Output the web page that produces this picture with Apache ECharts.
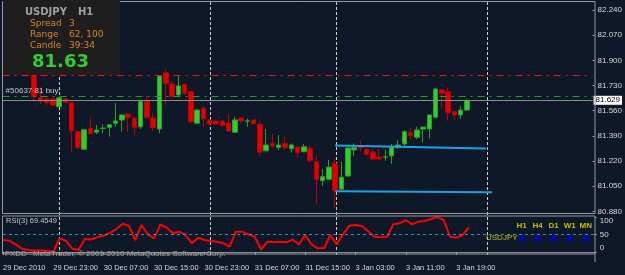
<!DOCTYPE html>
<html>
<head>
<meta charset="utf-8">
<script src="https://cdn.jsdelivr.net/npm/echarts@6/dist/echarts.min.js"></script>
<style>
  html, body { margin: 0; padding: 0; background: #0e1828; }
  #chart { width: 625px; height: 275px; }
</style>
</head>
<body>
<div id="chart"></div>
<script>
// trading sessions shown on the time axis: [day, first hour, last hour]
const sessions = [['29 Dec', 15, 23], ['30 Dec', 0, 23], ['31 Dec', 0, 19], ['3 Jan', 0, 23], ['4 Jan', 0, 17]]
const firstLabel = '29 Dec 2010'
const hiddenBars = 5 // bars behind the info box

// [open, close, low, high] from 29 Dec 20:00
const candles = [
  [81.835, 81.654, 81.620, 81.850], [81.648, 81.623, 81.605, 81.718], [81.639, 81.614, 81.598, 81.648],
  [81.639, 81.596, 81.593, 81.642], [81.587, 81.646, 81.583, 81.649], [81.639, 81.616, 81.612, 81.642],
  [81.614, 81.424, 81.276, 81.617], [81.418, 81.312, 81.299, 81.422], [81.299, 81.431, 81.294, 81.436],
  [81.441, 81.404, 81.402, 81.519], [81.414, 81.429, 81.402, 81.463], [81.440, 81.442, 81.407, 81.468],
  [81.447, 81.465, 81.384, 81.470], [81.475, 81.490, 81.451, 81.610], [81.497, 81.531, 81.418, 81.534],
  [81.537, 81.515, 81.418, 81.540], [81.510, 81.447, 81.395, 81.514], [81.451, 81.623, 81.436, 81.625],
  [81.623, 81.515, 81.510, 81.659], [81.510, 81.445, 81.424, 81.542], [81.436, 81.794, 81.407, 81.797],
  [81.816, 81.745, 81.598, 81.841], [81.740, 81.654, 81.650, 81.760], [81.666, 81.727, 81.659, 81.794],
  [81.738, 81.677, 81.670, 81.745], [81.688, 81.485, 81.475, 81.693], [81.475, 81.564, 81.470, 81.571],
  [81.576, 81.504, 81.451, 81.591], [81.497, 81.470, 81.465, 81.500], [81.490, 81.470, 81.466, 81.494],
  [81.490, 81.461, 81.451, 81.493], [81.477, 81.422, 81.420, 81.537], [81.414, 81.497, 81.410, 81.519],
  [81.510, 81.490, 81.475, 81.512], [81.489, 81.491, 81.451, 81.506], [81.497, 81.472, 81.468, 81.500],
  [81.468, 81.280, 81.254, 81.490], [81.289, 81.328, 81.283, 81.436], [81.339, 81.321, 81.306, 81.402],
  [81.312, 81.328, 81.294, 81.395], [81.339, 81.310, 81.294, 81.389], [81.303, 81.328, 81.276, 81.339],
  [81.316, 81.276, 81.245, 81.320], [81.283, 81.316, 81.280, 81.335], [81.306, 81.222, 81.211, 81.328],
  [81.215, 81.096, 80.927, 81.256], [81.087, 81.114, 81.051, 81.166], [81.096, 81.179, 81.090, 81.227],
  [81.204, 81.019, 80.904, 81.238], [81.029, 81.110, 81.022, 81.215], [81.118, 81.308, 81.115, 81.312],
  [81.294, 81.310, 81.256, 81.339], [81.321, 81.306, 81.283, 81.362], [81.299, 81.265, 81.254, 81.302],
  [81.279, 81.233, 81.227, 81.299], [81.247, 81.233, 81.227, 81.299], [81.246, 81.248, 81.222, 81.294],
  [81.254, 81.312, 81.200, 81.335], [81.312, 81.328, 81.301, 81.362], [81.335, 81.418, 81.321, 81.429],
  [81.411, 81.391, 81.362, 81.441], [81.380, 81.429, 81.368, 81.451], [81.436, 81.449, 81.346, 81.452],
  [81.436, 81.531, 81.373, 81.534], [81.515, 81.706, 81.510, 81.715], [81.700, 81.677, 81.576, 81.703],
  [81.688, 81.546, 81.492, 81.718], [81.553, 81.531, 81.497, 81.556], [81.531, 81.564, 81.504, 81.591],
  [81.564, 81.629, 81.560, 81.639]
]

// RSI(3) from 29 Dec 15:00
const rsi = [
  33.7, 31.8, 21, 9, 5, 4, 4, 3, 0.5, 38.5, 31, 9, 6, 36.6, 35, 42, 46, 54, 65, 80,
  74, 33.7, 76.6, 50, 38.5, 78.5, 69, 52.8, 57.5, 48, 24.2, 40.4, 33.7, 30.9, 28.9, 24.2, 14.7, 57.5, 57.5, 50,
  43, 6, 29, 27, 29, 27, 35, 21, 48, 21, 10, 10, 48, 21, 50, 74.7, 76.6, 73.7, 59, 43,
  41.3, 43, 78.5, 81.3, 90.8, 78.5, 86.1, 88, 93.7, 98.5, 90.8, 43, 40.4, 48, 69.4549
]

const stopLevel = 81.804
const orderLevel = 81.656
const orderText = '#50637 81 buy'
const channelUpper = [[53, 81.325], [77, 81.304]]
const channelLower = [[53, 81.016], [78, 81.008]]

const symbol = 'USDJPY'
const period = 'H1'
const infoRows = [['Spread', '3'], ['Range', '62, 100'], ['Candle', '39:34']]
const frames = ['H1', 'H4', 'D1', 'W1', 'MN']
const copyright = ['FXDD', 'MetaTrader, © 2001-2010 MetaQuotes Software Corp.']

const cats = []
sessions.forEach(([day, from, to]) => {
  for (let h = from; h <= to; h++) cats.push(day + ' ' + String(h).padStart(2, '0') + ':00')
})
const separators = cats.map((c, i) => (c.endsWith(' 00:00') ? i : -1)).filter(i => i >= 0)
const tickEvery = i => i % 8 === 0 && i <= 72

const candleData = Array(hiddenBars).fill(['-', '-', '-', '-']).concat(candles)
const bid = candles[candles.length - 1][1]

const font = 'Liberation Sans'
const axisText = '#d8d8d8'
const frameColor = '#9a9a9a'
const dashDot = [7, 5, 2, 5]

const txt = (text, x, y, fill, f, align) => ({
  type: 'text', x, y, z: 101,
  style: { text, fill, font: f, align: align || 'left', verticalAlign: 'middle' }
})

const graphic = [
  { type: 'rect', z: 100, shape: { x: 3, y: 0, width: 117, height: 75 }, style: { fill: '#1e1e1e' } },
  txt(symbol, 25, 12, '#a0a0a0', 'bold 10px "DejaVu Sans"'),
  txt(period, 78, 12, '#a0a0a0', 'bold 10px "DejaVu Sans"'),
  txt(bid.toFixed(2), 32, 62, '#32cd32', 'bold 18px "DejaVu Sans"'),
  { type: 'rect', z: 99, shape: { x: 2.5, y: 1.5, width: 592.5, height: 212 }, style: { fill: null, stroke: frameColor, lineWidth: 1 } },
  { type: 'rect', z: 99, shape: { x: 2.5, y: 216, width: 592.5, height: 38 }, style: { fill: null, stroke: frameColor, lineWidth: 1 } },
  { type: 'line', z: 99, shape: { x1: 595, y1: 254, x2: 595, y2: 262 }, style: { stroke: frameColor, lineWidth: 1 } },
  txt('RSI(3) ' + rsi[rsi.length - 1].toFixed(4), 6, 221, '#c8c8c8', '7.5px "Liberation Sans"'),
  txt(copyright[0], 5, 254, '#a0a0a0', '8px "Liberation Sans"'),
  txt(copyright[1], 33, 254, '#a0a0a0', '8px "Liberation Sans"'),
  txt(symbol, 486, 238, '#c0c000', '8px "Liberation Sans"')
]
infoRows.forEach(([k, v], i) => {
  graphic.push(txt(k, 30, 24 + i * 11, '#d8842a', '9px "DejaVu Sans"'))
  graphic.push(txt(v, 69, 24 + i * 11, '#d8842a', '9px "DejaVu Sans"'))
})
frames.forEach((f, i) => {
  const cx = 521.7 + i * 16
  graphic.push(txt(f, cx, 226, '#c0c000', 'bold 8px "Liberation Sans"', 'center'))
  graphic.push({
    type: 'polygon', z: 101,
    shape: { points: [[cx, 235], [cx + 3.5, 238.5], [cx + 1.2, 238.5], [cx + 1.2, 242], [cx - 1.2, 242], [cx - 1.2, 238.5], [cx - 3.5, 238.5]] },
    style: { fill: '#0000ff' }
  })
})

// a horizontal price level, as its own line series holding one markLine
const level = (value, color, type, label) => ({
  type: 'line', xAxisIndex: 0, yAxisIndex: 0, data: [], color,
  markLine: {
    silent: true, symbol: ['none', 'none'], animation: false,
    lineStyle: { color, type, width: 1 },
    label: label || { show: false },
    data: [{ yAxis: value }]
  }
})

const chart = echarts.init(document.getElementById('chart'))
chart.setOption({
  backgroundColor: '#0e1828',
  animation: false,
  grid: [
    { left: 2.6, right: 30.2, top: 10, height: 201.3 },
    { left: 2.6, right: 30.2, top: 216.8, height: 35 },
    { left: 2.6, right: 30.2, top: 2, height: 254 }
  ],
  xAxis: [
    {
      type: 'category', gridIndex: 0, data: cats, boundaryGap: false,
      axisLine: { show: false }, axisTick: { show: false }, axisLabel: { show: false }, splitLine: { show: false }
    },
    {
      type: 'category', gridIndex: 1, data: cats, boundaryGap: false, offset: 9.7,
      axisLine: { lineStyle: { color: '#8c8c8c' } },
      axisTick: { interval: tickEvery, length: 3, lineStyle: { color: '#a0a0a0' } },
      axisLabel: {
        interval: tickEvery, align: 'left', margin: 2, fontSize: 7.5, color: axisText, fontFamily: font,
        formatter: (v, i) => (i === 0 ? firstLabel : v)
      },
      splitLine: { show: false }
    },
    {
      type: 'category', gridIndex: 2, data: cats, boundaryGap: false,
      axisLine: { show: false }, axisTick: { show: false }, axisLabel: { show: false },
      splitLine: { show: true, interval: i => separators.includes(i), lineStyle: { color: '#d0d0c0', type: [3, 2], width: 1 } }
    }
  ],
  yAxis: [
    {
      type: 'value', gridIndex: 0, position: 'right', min: 80.88, max: 82.24, interval: 0.17,
      axisLine: { show: false },
      axisTick: { show: true, length: 2, lineStyle: { color: '#a0a0a0' } },
      axisLabel: { margin: 5, fontSize: 8, color: axisText, fontFamily: font, formatter: v => v.toFixed(3) },
      splitLine: { show: false }
    },
    {
      type: 'value', gridIndex: 1, position: 'right', min: 0, max: 100, interval: 50,
      axisLine: { show: false },
      axisTick: { show: true, length: 2, lineStyle: { color: '#a0a0a0' } },
      axisLabel: {
        margin: 5, fontSize: 8, color: axisText, fontFamily: font,
        verticalAlignMaxLabel: 'top', verticalAlignMinLabel: 'bottom'
      },
      splitLine: { show: false }
    },
    { type: 'value', gridIndex: 2, min: 0, max: 1, show: false }
  ],
  series: [
    {
      type: 'candlestick', xAxisIndex: 0, yAxisIndex: 0, barWidth: 5, data: candleData,
      itemStyle: { color: '#32cd32', color0: '#e00000', borderColor: '#24a024', borderColor0: '#c00000', borderWidth: 1 }
    },
    level(stopLevel, '#ff1010', dashDot),
    level(orderLevel, '#1ea01e', dashDot,
      { show: true, position: 'insideStartTop', formatter: orderText, color: '#c8c8c8', fontSize: 8, fontFamily: font, distance: [3, 1] }),
    level(bid, '#8c8c8c', 'solid', {
      show: true, position: 'end', formatter: bid.toFixed(3), backgroundColor: '#ffffff', color: '#000000',
      padding: [1, 2, 0, 2], fontSize: 8, fontFamily: font, distance: 1
    }),
    { type: 'line', xAxisIndex: 0, yAxisIndex: 0, data: channelUpper, symbol: 'none', lineStyle: { color: '#1ea0e8', width: 2 } },
    { type: 'line', xAxisIndex: 0, yAxisIndex: 0, data: channelLower, symbol: 'none', lineStyle: { color: '#1ea0e8', width: 2 } },
    {
      type: 'line', xAxisIndex: 1, yAxisIndex: 1, data: rsi, symbol: 'none',
      lineStyle: { color: '#ff0000', width: 2 },
      markLine: {
        silent: true, symbol: ['none', 'none'], animation: false, label: { show: false },
        data: [{ yAxis: 50 }],
        lineStyle: { color: '#2a90c0', type: [3, 3], width: 1 }
      }
    },
    { type: 'line', xAxisIndex: 2, yAxisIndex: 2, data: [] }
  ],
  graphic
})
</script>
</body>
</html>
